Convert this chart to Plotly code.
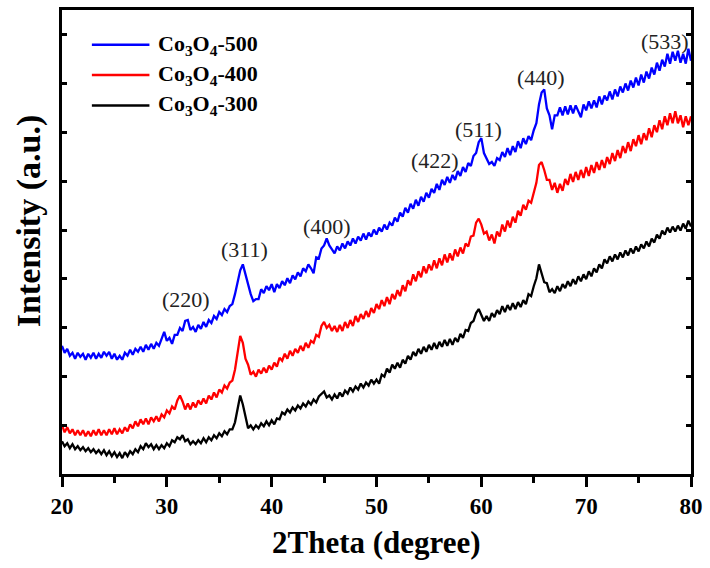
import numpy as np
import plotly.graph_objects as go

# 2-theta sampling grid (degrees), 0.25 deg steps from 20 to 80
two_theta = np.round(np.arange(20.0, 80.001, 0.25), 2)

# Intensity (a.u.)
co3o4_500 = [
    129,122,126,119,122,116,122,118, 121,115,121,117,122,116,121,117,
    123,119,123,116,121,115,119,115, 122,119,125,120,126,123,128,123,
    130,125,131,126,132,129,136,143, 134,137,131,140,140,147,144,154,
    155,145,148,143,150,146,153,148, 155,152,159,156,163,160,166,163,
    169,171,181,193,205,211,200,190, 181,174,176,176,186,182,189,185,
    191,183,191,187,194,190,197,192, 200,196,203,199,207,204,211,207,
    202,218,217,227,230,237,230,226, 222,229,225,232,227,234,230,237,
    232,239,235,242,236,243,239,246, 241,248,244,251,246,253,250,258,
    254,263,259,268,263,272,267,276, 270,279,274,283,278,287,283,292,
    286,296,291,299,293,301,296,305, 300,309,304,313,310,320,323,334,
    338,323,318,312,314,310,318,316, 324,319,328,321,330,324,335,328,
    338,332,340,336,346,353,372,384, 387,368,361,347,361,361,369,361,
    370,362,371,363,371,365,359,372, 366,375,368,376,369,380,372,381,
    376,385,377,387,380,390,384,393, 386,396,389,399,391,402,394,405,
    398,409,402,414,406,417,410,423, 413,425,416,426,414,423,413,428,
    416,
]
co3o4_400 = [
    49,42,47,41,45,39,44,39, 44,38,43,38,44,39,45,39,
    44,39,45,40,46,40,45,41, 47,43,50,46,53,48,55,50,
    56,50,57,53,58,53,60,57, 64,61,68,65,74,79,73,65,
    71,65,72,67,74,70,76,71, 79,75,82,77,85,82,89,86,
    92,94,105,122,139,132,116,110, 100,103,98,105,101,107,102,109,
    105,112,108,117,114,121,116,124, 119,126,122,129,124,132,127,134,
    132,140,138,149,153,147,150,144, 149,143,150,144,153,147,155,149,
    159,153,161,156,164,158,167,162, 171,166,175,169,178,171,181,176,
    185,179,190,184,195,190,201,194, 204,198,209,202,211,205,215,207,
    217,210,221,213,222,215,226,219, 228,222,232,229,239,240,253,257,
    251,242,244,235,241,232,244,239, 251,244,255,248,259,253,265,260,
    271,266,275,273,284,293,311,314, 306,296,296,286,293,283,292,285,
    297,291,302,294,304,296,306,298, 309,300,311,303,314,306,316,308,
    319,312,323,315,326,318,330,323, 334,325,337,330,341,332,343,336,
    348,339,351,344,356,347,360,351, 363,353,365,353,361,349,360,351,
    360,
]
co3o4_300 = [
    33,28,31,26,30,25,28,24, 27,23,26,22,25,21,24,20,
    24,19,23,18,22,17,21,16, 22,18,23,20,25,22,28,25,
    31,27,30,25,29,25,29,26, 31,28,34,32,37,35,39,33,
    35,30,33,30,34,31,36,32, 37,34,39,36,41,38,43,40,
    45,45,52,64,79,70,56,46, 49,45,49,46,51,48,53,49,
    54,50,56,55,62,60,65,62, 67,64,69,66,71,68,73,70,
    75,72,78,81,83,77,79,75, 80,76,82,78,84,81,87,83,
    88,85,91,87,92,89,95,91, 95,91,100,98,106,102,110,106,
    112,107,115,111,119,115,123,119, 126,121,128,123,130,125,132,126,
    133,128,135,129,136,130,137,133, 141,137,145,144,152,154,162,166,
    160,154,159,154,162,158,165,161, 169,163,170,165,172,166,173,168,
    175,171,181,179,189,197,211,203, 193,192,183,186,182,189,184,191,
    187,194,189,196,191,199,194,201, 196,204,199,207,203,211,207,216,
    212,219,214,221,216,223,218,225, 220,227,222,229,224,231,227,234,
    229,237,233,241,237,245,241,248, 243,249,244,250,245,252,247,255,
    249,
]

series_names = ["Co<sub>3</sub>O<sub>4</sub>-500",
                "Co<sub>3</sub>O<sub>4</sub>-400",
                "Co<sub>3</sub>O<sub>4</sub>-300"]
series_colors = ["#0000FF", "#FF0000", "#000000"]

# Peak labels (hkl), anchor positions in (2theta, intensity)
peak_labels = ["(220)", "(311)", "(400)", "(422)", "(511)", "(440)", "(533)"]
peak_x = [31.8, 37.4, 45.3, 55.6, 59.7, 65.7, 77.5]
peak_y = [176, 226, 249, 316, 347, 399, 435]

SERIF = "Liberation Serif, Times New Roman, serif"

fig = go.Figure()
for name, ys, col in zip(series_names, [co3o4_500, co3o4_400, co3o4_300], series_colors):
    fig.add_trace(go.Scatter(x=two_theta, y=ys, mode="lines", name=name,
                             line=dict(color=col, width=2.3), showlegend=False))

# manual legend (long line samples like the original)
legend_rows = [0.9251, 0.8597, 0.7944]
for name, col, yy in zip(series_names, series_colors, legend_rows):
    fig.add_shape(type="line", xref="paper", yref="paper", x0=0.0475, x1=0.139,
                  y0=yy, y1=yy, line=dict(color=col, width=2.5))
    fig.add_annotation(xref="paper", yref="paper", x=0.150, y=yy, text=name,
                       showarrow=False, xanchor="left", yanchor="middle",
                       font=dict(family=SERIF, size=22, color="black", weight="bold"))

for lab, px_, py_ in zip(peak_labels, peak_x, peak_y):
    fig.add_annotation(x=px_, y=py_, text=lab, showarrow=False,
                       xanchor="center", yanchor="middle",
                       font=dict(family=SERIF, size=22, color="#222222"))

# axis titles
fig.add_annotation(xref="paper", yref="paper", x=0.5, y=-0.1478,
                   text="2Theta (degree)", showarrow=False,
                   xanchor="center", yanchor="middle",
                   font=dict(family=SERIF, size=31, color="black", weight="bold"))
fig.add_annotation(xref="paper", yref="paper", x=-0.0522, y=0.545,
                   text="Intensity (a.u.)", showarrow=False, textangle=-90,
                   xanchor="center", yanchor="middle",
                   font=dict(family=SERIF, size=34, color="black", weight="bold"))

fig.update_layout(
    width=710, height=568,
    margin=dict(l=62, r=16, t=7, b=94),
    paper_bgcolor="white", plot_bgcolor="white",
    font=dict(family=SERIF, color="black"),
    xaxis=dict(range=[20, 80], dtick=10, tick0=20, ticks="outside", ticklen=10,
               tickwidth=2.5, tickcolor="black", showline=True, linewidth=2.5,
               linecolor="black", mirror=True, showgrid=False, zeroline=False,
               tickfont=dict(family=SERIF, size=23, color="black", weight="bold"),
               minor=dict(dtick=5, tick0=20, ticks="outside", ticklen=6,
                          tickwidth=2.5, tickcolor="black")),
    xaxis2=dict(range=[20, 80], overlaying="x", side="top", dtick=10, tick0=20,
                ticks="inside", ticklen=6, tickwidth=2, tickcolor="black",
                showticklabels=False, showgrid=False, zeroline=False, showline=False,
                minor=dict(dtick=5, tick0=20, ticks="inside", ticklen=4,
                           tickwidth=2, tickcolor="black")),
    yaxis=dict(range=[0, 467], tickvals=[49.1 * k for k in range(1, 10)],
               ticks="inside", ticklen=5, tickwidth=2.5, tickcolor="black",
               showticklabels=False, showline=True, linewidth=2.5,
               linecolor="black", mirror="ticks", showgrid=False, zeroline=False),
)

fig.write_html("out.html")
